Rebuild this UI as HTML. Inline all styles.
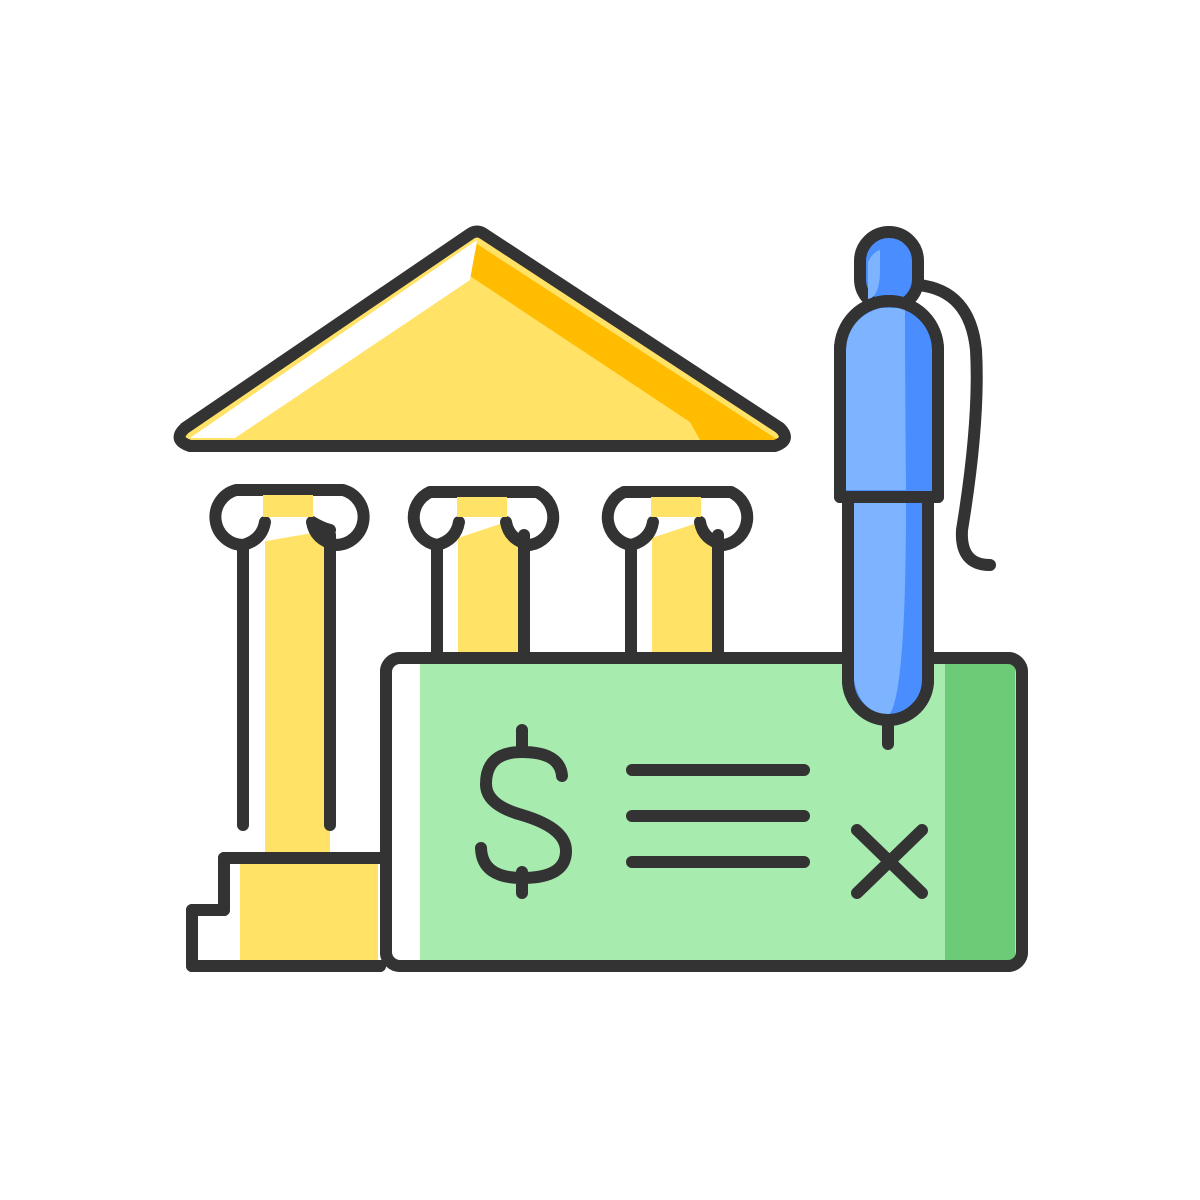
<!DOCTYPE html>
<html><head><meta charset="utf-8"><style>html,body{margin:0;padding:0;background:#fff}svg{display:block}</style></head><body>
<svg width="1200" height="1200" viewBox="0 0 1200 1200" xmlns="http://www.w3.org/2000/svg">
<g stroke="#333" stroke-width="12" stroke-linecap="round" stroke-linejoin="round">
<!-- roof -->
<polygon points="477,232 182,430 190,446 778,446 784,430" fill="#FFE266" stroke="none"/>
<polygon points="477,244 470,276 690,422 700,440 778,440" fill="#FFBC00" stroke="none"/>
<polygon points="477,240 190,438 235,438 470,280" fill="#fff" stroke="none"/>
<path d="M470,234 Q477,229 484,234 L780,428 Q792,440 775,446 L190,446 Q172,440 185,428 Z" fill="none"/>
<!-- columns fill -->
<rect x="265" y="520" width="65" height="340" fill="#FFE266" stroke="none"/>
<rect x="458" y="520" width="66" height="135" fill="#FFE266" stroke="none"/>
<rect x="652" y="520" width="66" height="135" fill="#FFE266" stroke="none"/>
<!-- capitals -->
<g fill="#fff">
<path d="M243,545 A28,28 0 0 1 236,490 L343,490 A28,28 0 0 1 336,545 Q315,540 312,522 Q322,528 330,530" fill="#fff"/>
<path d="M437,545 A28,28 0 0 1 430,492 L537,492 A28,28 0 0 1 530,545 Q509,540 506,522" fill="#fff"/>
<path d="M631,545 A28,28 0 0 1 624,492 L731,492 A28,28 0 0 1 724,545 Q703,540 700,522" fill="#fff"/>
</g>
<path d="M243,545 Q262,540 265,522 M437,545 Q456,540 459,522 M631,545 Q650,540 653,522" fill="none"/>
<rect x="263" y="495" width="50" height="22" fill="#FFE266" stroke="none"/>
<rect x="457" y="497" width="50" height="20" fill="#FFE266" stroke="none"/>
<rect x="651" y="497" width="50" height="20" fill="#FFE266" stroke="none"/>
<path d="M243,545 L243,825 M330,535 L330,825 M437,545 L437,652 M524,535 L524,652 M631,545 L631,652 M718,535 L718,652" fill="none"/>
<!-- steps -->
<path d="M380,858 L224,858 L224,910 L192,910 L192,966 L380,966" fill="#fff"/>
<rect x="240" y="862" width="138" height="100" fill="#FFE266" stroke="none"/>
<path d="M224,910 L265,910 L265,862" fill="none" stroke="none"/>
<path d="M380,858 L224,858 L224,910 L192,910 L192,966 L380,966" fill="none"/>
<!-- check -->
<rect x="386" y="658" width="636" height="308" rx="14" fill="#A8EBAF"/>
<rect x="392" y="664" width="28" height="296" fill="#fff" stroke="none"/>
<rect x="945" y="664" width="70" height="296" fill="#6BCB77" stroke="none"/>
<rect x="386" y="658" width="636" height="308" rx="14" fill="none"/>
<!-- dollar -->
<path d="M522,730 L522,752 M522,872 L522,893 M562,776 Q560,752 522,752 Q486,752 486,784 Q486,805 522,815 Q566,828 566,851 Q566,878 522,878 Q482,878 481,848" fill="none"/>
<!-- lines -->
<path d="M632,770 L804,770 M632,816 L804,816 M632,862 L804,862 M857,830 L922,893 M922,830 L857,893" fill="none"/>
<!-- pen -->
<path d="M918,285 Q970,290 976,350 Q980,420 962,530 Q960,565 990,565" fill="none"/>
<rect x="860" y="232" width="58" height="76" rx="29" fill="#4A8DFF"/>
<path d="M868,300 Q880,296 880,270 L880,250 Q873,252 868,262 Z" fill="#7EB4FF" stroke="none"/>
<path d="M840,497 L840,350 A49,49 0 0 1 938,350 L938,497 Z" fill="#4A8DFF"/>
<path d="M846,490 L846,350 Q848,318 880,308 L905,308 Q905,380 906,490 Z" fill="#7EB4FF" stroke="none"/>
<path d="M840,497 L840,350 A49,49 0 0 1 938,350 L938,497 Z" fill="none"/>
<path d="M848,497 L848,680 A40,40 0 0 0 928,680 L928,497 Z" fill="#4A8DFF"/>
<path d="M854,503 L854,680 Q860,712 888,716 Q906,700 906,503 Z" fill="#7EB4FF" stroke="none"/>
<path d="M848,497 L848,680 A40,40 0 0 0 928,680 L928,497 Z" fill="none"/>
<path d="M888,722 L888,744" fill="none"/>
</g>
</svg>
</body></html>
